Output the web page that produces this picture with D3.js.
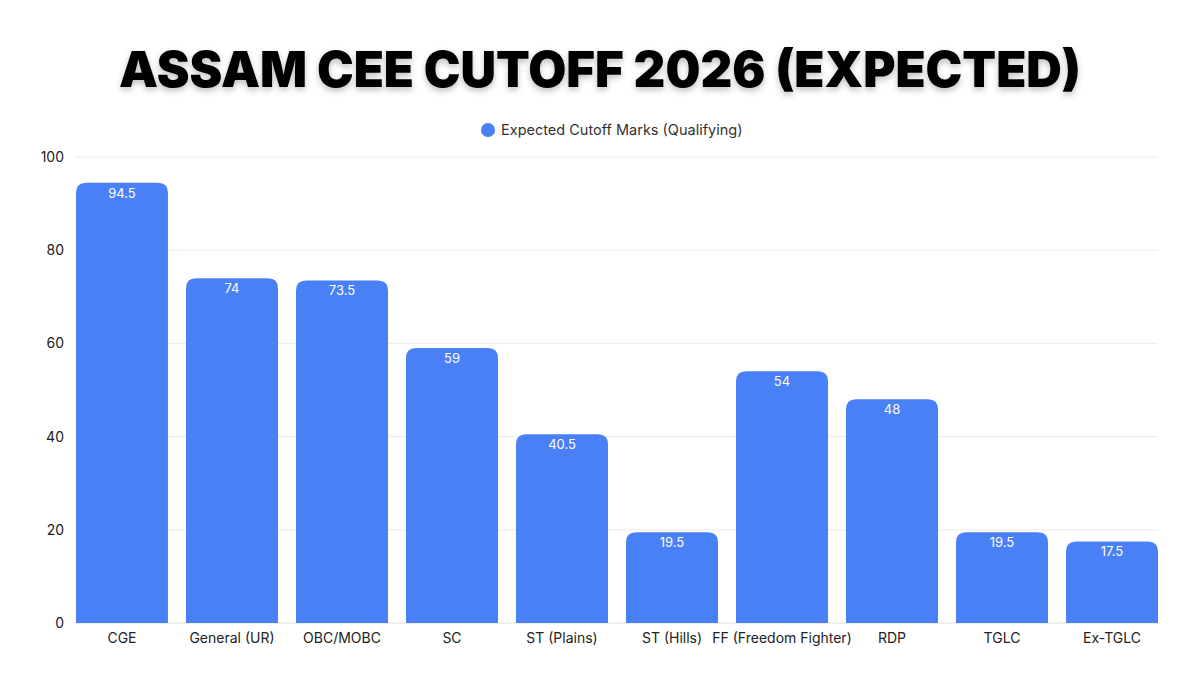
<!DOCTYPE html>
<html>
<head>
<meta charset="utf-8">
<script src="https://cdn.jsdelivr.net/npm/d3@7"></script>
<style>
  body { margin: 0; background: #fff; }
  svg { display: block; }
</style>
</head>
<body>
<svg id="chart" width="1200" height="675"></svg>
<script>
// data
var categories = ["CGE", "General (UR)", "OBC/MOBC", "SC", "ST (Plains)", "ST (Hills)",
                  "FF (Freedom Fighter)", "RDP", "TGLC", "Ex-TGLC"];
var cutoffMarks = [94.5, 74, 73.5, 59, 40.5, 19.5, 54, 48, 19.5, 17.5];
var yTicks = [0, 20, 40, 60, 80, 100];
var seriesName = "Expected Cutoff Marks (Qualifying)";
var titleText = "ASSAM CEE CUTOFF 2026 (EXPECTED)";

var W = 1200, H = 675;
var margin = {top: 157, right: 42, bottom: 52, left: 76};
var width = W - margin.left - margin.right,
    height = H - margin.top - margin.bottom;
var barColor = "#4a80f6";
var font = "Inter, 'Open Sans', sans-serif";

var svg = d3.select("#chart");

// 标题 with soft shadow
var defs = svg.append("defs");
var f = defs.append("filter").attr("id", "shadow")
    .attr("x", "-5%").attr("y", "-20%").attr("width", "110%").attr("height", "160%");
f.append("feDropShadow").attr("dx", 0).attr("dy", 3).attr("stdDeviation", 3)
    .attr("flood-color", "#000").attr("flood-opacity", 0.25);

var title = svg.append("text")
    .attr("x", W / 2).attr("y", 87)
    .attr("text-anchor", "middle")
    .style("font-family", font)
    .style("font-weight", 900)
    .style("font-size", "64px")
    .style("fill", "#000")
    .attr("filter", "url(#shadow)")
    .text(titleText);
// fit to the width seen in the reference
var tw = title.node().getComputedTextLength();
if (tw > 0) title.style("font-size", (64 * 962 / tw) + "px");

// legend
var legend = svg.append("g").attr("transform", "translate(488,130)");
legend.append("circle").attr("r", 7).attr("fill", barColor);
legend.append("text")
    .attr("x", 13).attr("dy", "0.35em")
    .style("font-family", font).style("font-size", "14.5px").style("fill", "#333")
    .text(seriesName);

var g = svg.append("g").attr("transform", "translate(" + margin.left + "," + margin.top + ")");

var x = d3.scaleBand().domain(categories).range([0, width]).paddingInner(0.164).paddingOuter(0);
var y = d3.scaleLinear().domain([0, 100]).range([height, 0]);

// grid
g.selectAll(".grid").data(yTicks).enter().append("line")
    .attr("class", "grid")
    .attr("x1", 0).attr("x2", width)
    .attr("y1", function (d) { return y(d); })
    .attr("y2", function (d) { return y(d); })
    .attr("stroke", function (d) { return d === 0 ? "#dcdcdc" : "#ececec"; })
    .attr("stroke-width", 1);

// y axis labels
var yAxis = g.append("g").call(d3.axisLeft(y).tickValues(yTicks).tickSize(0).tickPadding(12));
yAxis.select(".domain").remove();
yAxis.selectAll("text").style("font-family", font).style("font-size", "14px").style("fill", "#222");

// x axis labels
var xAxis = g.append("g").attr("transform", "translate(0," + height + ")")
    .call(d3.axisBottom(x).tickSize(0).tickPadding(10));
xAxis.select(".domain").remove();
xAxis.selectAll("text").style("font-family", font).style("font-size", "14px").style("fill", "#222");

// bars with rounded top corners
var r = 10;
function barPath(d, i) {
    var x0 = x(categories[i]), bw = x.bandwidth();
    var y0 = y(d), y1 = y(0);
    var rr = Math.min(r, (y1 - y0));
    return "M" + x0 + "," + y1 +
        "V" + (y0 + rr) +
        "Q" + x0 + "," + y0 + " " + (x0 + rr) + "," + y0 +
        "H" + (x0 + bw - rr) +
        "Q" + (x0 + bw) + "," + y0 + " " + (x0 + bw) + "," + (y0 + rr) +
        "V" + y1 + "Z";
}

g.selectAll(".bar").data(cutoffMarks).enter().append("path")
    .attr("class", "bar")
    .attr("d", barPath)
    .attr("fill", barColor);

// value labels
g.selectAll(".val").data(cutoffMarks).enter().append("text")
    .attr("class", "val")
    .attr("x", function (d, i) { return x(categories[i]) + x.bandwidth() / 2; })
    .attr("y", function (d) { return y(d) + 15; })
    .attr("text-anchor", "middle")
    .style("font-family", font).style("font-size", "13px").style("fill", "#fff")
    .text(function (d) { return d; });
</script>
</body>
</html>
